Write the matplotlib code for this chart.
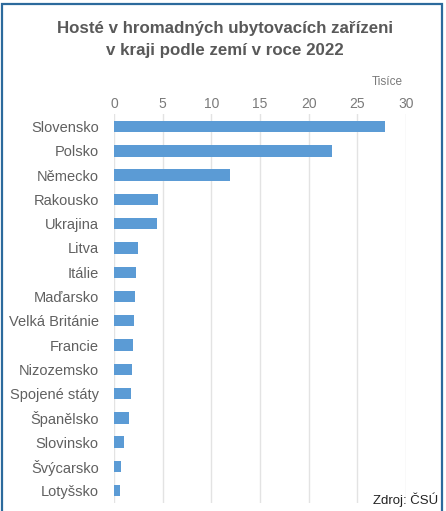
import numpy as np
import matplotlib
matplotlib.use("Agg")
import matplotlib.pyplot as plt
from matplotlib.patches import Rectangle

plt.rcParams['font.family'] = ['Liberation Sans', 'DejaVu Sans']

# data (tisíce hostů)
countries = ['Slovensko', 'Polsko', 'Německo', 'Rakousko', 'Ukrajina', 'Litva',
             'Itálie', 'Maďarsko', 'Velká Británie', 'Francie', 'Nizozemsko',
             'Spojené státy', 'Španělsko', 'Slovinsko', 'Švýcarsko', 'Lotyšsko']
guests = [27.85, 22.4, 11.95, 4.55, 4.42, 2.5, 2.3, 2.16, 2.06, 1.98, 1.88,
          1.78, 1.57, 1.06, 0.69, 0.58]
xticks = [0, 5, 10, 15, 20, 25, 30]
title_lines = ['Hosté v hromadných ubytovacích zařízeni', 'v kraji podle zemí v roce 2022']

W, H = 446, 511
fig = plt.figure(figsize=(W / 100, H / 100), dpi=100)
fig.patch.set_facecolor('white')

ax = fig.add_axes([114 / W, 8 / H, 292 / W, 389 / H])
y = np.arange(len(countries))
ax.barh(y, guests, height=0.47, color='#5B9BD5', zorder=3)
ax.set_xlim(0, 30)
ax.set_ylim(15.51, -0.52)
ax.set_xticks(xticks)
ax.set_yticks(y)
ax.set_yticklabels(countries)
ax.xaxis.tick_top()
ax.tick_params(axis='x', length=0, pad=2.5, labelsize=10, labelcolor='#7a7a7a')
ax.tick_params(axis='y', length=0, pad=11, labelsize=10.5, labelcolor='#606060')
ax.grid(axis='x', color='#e3e3e3', linewidth=1, zorder=0)
for s in ax.spines.values():
    s.set_visible(False)

# titulek - dva radky
fig.text(225 / W, 1 - 28 / H, title_lines[0], ha='center', va='center',
         fontsize=12.2, fontweight='bold', color='#595959')
fig.text(225 / W, 1 - 50 / H, title_lines[1], ha='center', va='center',
         fontsize=12.2, fontweight='bold', color='#595959')
fig.text(403 / W, 1 - 82 / H, 'Tisíce', ha='right', va='center', fontsize=8.5, color='#7a7a7a')
fig.text(438 / W, 1 - 500 / H, 'Zdroj: ČSÚ', ha='right', va='center', fontsize=9.5, color='#222222')

fig.patches.append(Rectangle((2 / W, -0.05), 440 / W, 1.05 - 4 / H, transform=fig.transFigure,
                             fill=False, edgecolor='#2c6a9c', linewidth=1.6))

fig.savefig('out.png', dpi=100)
